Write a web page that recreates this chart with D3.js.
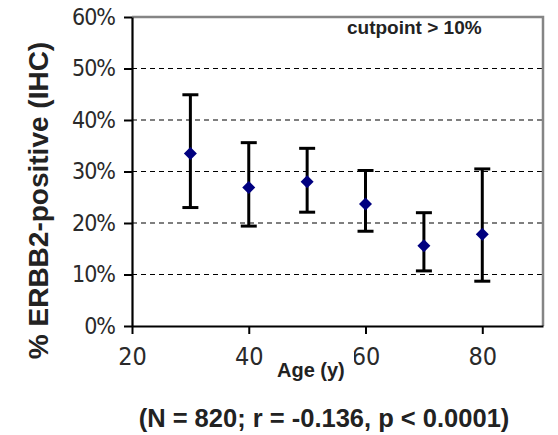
<!DOCTYPE html>
<html>
<head>
<meta charset="utf-8">
<script src="https://cdn.jsdelivr.net/npm/d3@7"></script>
<style>
  html, body { margin: 0; padding: 0; background: #fff; }
  svg { display: block; }
</style>
</head>
<body>
<svg id="chart"></svg>
<script>
const ages = [30, 40, 50, 60, 70, 80];
const positiveRate = [0.335, 0.269, 0.280, 0.237, 0.156, 0.178];
const lowerCI = [0.230, 0.194, 0.221, 0.184, 0.107, 0.087];
const upperCI = [0.449, 0.356, 0.345, 0.302, 0.220, 0.305];
const xTicks = [20, 40, 60, 80];
const yTicks = [0, 0.1, 0.2, 0.3, 0.4, 0.5, 0.6];
const gridTicks = [0.1, 0.2, 0.3, 0.4, 0.5];

const config = { width: 558, height: 435 };
const margin = { top: 17, right: 15, bottom: 109, left: 132 };
const tickFont = "'DejaVu Sans Condensed', 'DejaVu Sans', sans-serif";
const boldFont = "'Liberation Sans', Arial, sans-serif";

const svg = d3.select('#chart')
    .attr('width', config.width)
    .attr('height', config.height);

const x = d3.scaleLinear()
    .domain([20, 90.4])
    .range([margin.left, config.width - margin.right]);
const y = d3.scaleLinear()
    .domain([0, 0.6])
    .range([config.height - margin.bottom, margin.top]);

const points = ages.map((a, i) => ({
    age: a,
    value: positiveRate[i],
    lo: lowerCI[i],
    hi: upperCI[i]
}));

// dashed grid
svg.append('g')
    .selectAll('line')
    .data(gridTicks)
    .join('line')
    .attr('x1', x(20))
    .attr('x2', x(90.4))
    .attr('y1', d => y(d))
    .attr('y2', d => y(d))
    .attr('stroke', '#000')
    .attr('stroke-width', 1.2)
    .attr('stroke-dasharray', '5,4');

// plot area border (top + right)
svg.append('path')
    .attr('d', `M${x(20)},${y(0.6)}H${x(90.4)}V${y(0)}`)
    .attr('fill', 'none')
    .attr('stroke', '#858585')
    .attr('stroke-width', 2.5);

const yAxis = svg.append('g')
    .attr('transform', `translate(${margin.left},0)`)
    .call(d3.axisLeft(y)
        .tickValues(yTicks)
        .tickFormat(d3.format('.0%'))
        .tickSize(8)
        .tickSizeOuter(0)
        .tickPadding(9));

const xAxis = svg.append('g')
    .attr('transform', `translate(0,${y(0)})`)
    .call(d3.axisBottom(x)
        .tickValues(xTicks)
        .tickFormat(d3.format('d'))
        .tickSize(8)
        .tickSizeOuter(0)
        .tickPadding(13));

[yAxis, xAxis].forEach(ax => {
    ax.select('.domain').attr('stroke', '#000').attr('stroke-width', 2.2);
    ax.selectAll('.tick line').attr('stroke', '#000').attr('stroke-width', 2);
    ax.selectAll('.tick text')
        .attr('fill', '#2a2a2a')
        .attr('font-family', tickFont)
        .style('font-stretch', 'condensed');
});
yAxis.selectAll('.tick text').attr('font-size', 23).attr('letter-spacing', -1);
xAxis.selectAll('.tick text').attr('font-size', 25);

// error bars
const bars = svg.append('g')
    .selectAll('g')
    .data(points)
    .join('g');
bars.append('line')
    .attr('x1', d => x(d.age))
    .attr('x2', d => x(d.age))
    .attr('y1', d => y(d.lo))
    .attr('y2', d => y(d.hi))
    .attr('stroke', '#000')
    .attr('stroke-width', 3);
bars.append('line')
    .attr('x1', d => x(d.age) - 8)
    .attr('x2', d => x(d.age) + 8)
    .attr('y1', d => y(d.hi))
    .attr('y2', d => y(d.hi))
    .attr('stroke', '#000')
    .attr('stroke-width', 3);
bars.append('line')
    .attr('x1', d => x(d.age) - 8)
    .attr('x2', d => x(d.age) + 8)
    .attr('y1', d => y(d.lo))
    .attr('y2', d => y(d.lo))
    .attr('stroke', '#000')
    .attr('stroke-width', 3);

// markers
svg.append('g')
    .selectAll('path')
    .data(points)
    .join('path')
    .attr('transform', d => `translate(${x(d.age)},${y(d.value)})`)
    .attr('d', 'M0,-6.5L6.5,0L0,6.5L-6.5,0Z')
    .attr('fill', '#000080');

// texts
svg.append('text')
    .attr('transform', `translate(48,${(42 + 359) / 2}) rotate(-90)`)
    .attr('text-anchor', 'middle')
    .attr('font-family', boldFont)
    .attr('font-weight', 'bold')
    .attr('font-size', 28)
    .attr('fill', '#222')
    .text('% ERBB2-positive (IHC)');

svg.append('text')
    .attr('x', 347)
    .attr('y', 33.5)
    .attr('font-family', boldFont)
    .attr('font-weight', 'bold')
    .attr('font-size', 19)
    .attr('fill', '#222')
    .text('cutpoint > 10%');

// the axis title box sits over the left edge of the "60" label
svg.append('rect')
    .attr('x', 272)
    .attr('y', 352)
    .attr('width', 82)
    .attr('height', 32)
    .attr('fill', '#fff');

svg.append('text')
    .attr('x', 277)
    .attr('y', 376.5)
    .attr('font-family', boldFont)
    .attr('font-weight', 'bold')
    .attr('font-size', 20)
    .attr('fill', '#222')
    .text('Age (y)');

svg.append('text')
    .attr('x', 324)
    .attr('y', 427)
    .attr('text-anchor', 'middle')
    .attr('font-family', boldFont)
    .attr('font-weight', 'bold')
    .attr('font-size', 25.5)
    .attr('fill', '#222')
    .text('(N = 820; r = -0.136, p < 0.0001)');
</script>
</body>
</html>
